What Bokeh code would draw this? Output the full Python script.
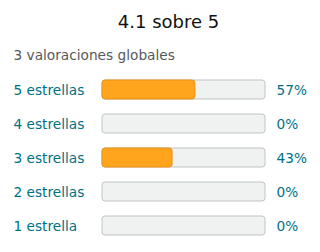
from bokeh.plotting import figure
from bokeh.models import Range1d, ColumnDataSource
from bokeh.core.properties import value
from bokeh.embed import file_html
from bokeh.resources import INLINE

# ---- data ----
title_text = "4.1 sobre 5"
subtitle_text = "3 valoraciones globales"
labels = ["5 estrellas", "4 estrellas", "3 estrellas", "2 estrellas", "1 estrella"]
percents = [57, 0, 43, 0, 0]

# ---- layout ----
W, H = 320, 252
FONT = "DejaVu Sans"
TEAL = "#007185"
bar_x0, bar_w = 101.5, 163
row0, row_step, bar_h = 89, 34, 19

p = figure(width=W, height=H, output_backend="svg", toolbar_location=None,
           x_range=Range1d(0, W), y_range=Range1d(H, 0), min_border=0)
p.axis.visible = False
p.grid.visible = False
p.outline_line_color = None
p.background_fill_color = "white"
p.border_fill_color = "white"

ys = [row0 + i * row_step for i in range(len(labels))]
src = ColumnDataSource(dict(
    y=ys,
    top=[y - bar_h / 2 for y in ys],
    bottom=[y + bar_h / 2 for y in ys],
    left=[bar_x0] * len(ys),
    right=[bar_x0 + bar_w] * len(ys),
    label=labels,
    pct=[f"{v}%" for v in percents],
))

# tracks
p.quad(left="left", right="right", top="top", bottom="bottom", source=src,
       fill_color="#F0F2F2", line_color="#BFC4C4", line_width=1, border_radius=3)
# filled parts
fsrc = ColumnDataSource(dict(
    left=[bar_x0 for v in percents if v > 0],
    right=[bar_x0 + bar_w * v / 100 for v in percents if v > 0],
    top=[y - bar_h / 2 for y, v in zip(ys, percents) if v > 0],
    bottom=[y + bar_h / 2 for y, v in zip(ys, percents) if v > 0],
))
p.quad(left="left", right="right", top="top", bottom="bottom", source=fsrc,
       fill_color="#FFA41C", line_color="#E8911A", line_width=1, border_radius=3)

# row labels
p.text(x=13, y="y", text="label", source=src, text_font=value(FONT),
       text_font_size=value("13.7px"), text_color=TEAL, text_baseline="middle",
       text_align="left")
p.text(x=276, y="y", text="pct", source=src, text_font=value(FONT),
       text_font_size=value("13.7px"), text_color=TEAL, text_baseline="middle",
       text_align="left")

# title and subtitle
p.text(x=[168], y=[21], text=[title_text], text_font=value(FONT),
       text_font_size=value("18px"), text_color="#0F1111", text_baseline="middle",
       text_align="center")
p.text(x=[13], y=[54], text=[subtitle_text], text_font=value(FONT),
       text_font_size=value("13.7px"), text_color="#565959", text_baseline="middle",
       text_align="left")

open("out.html", "w").write(file_html(p, INLINE))
